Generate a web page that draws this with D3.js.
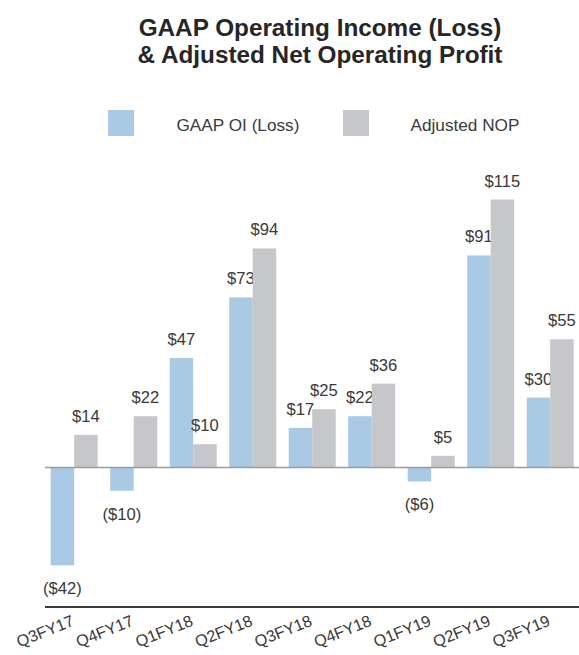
<!DOCTYPE html>
<html>
<head>
<meta charset="utf-8">
<script src="https://cdn.jsdelivr.net/npm/d3@7"></script>
<style>
  html, body { margin: 0; padding: 0; background: #fff; }
  svg { display: block; font-family: "Liberation Sans", Arial, Helvetica, sans-serif; }
</style>
</head>
<body>
<svg id="chart" width="579" height="655"></svg>
<script>
const categories = ["Q3FY17","Q4FY17","Q1FY18","Q2FY18","Q3FY18","Q4FY18","Q1FY19","Q2FY19","Q3FY19"];
const gaapOI = [-42, -10, 47, 73, 17, 22, -6, 91, 30];
const adjustedNOP = [14, 22, 10, 94, 25, 36, 5, 115, 55];
const seriesNames = ["GAAP OI (Loss)", "Adjusted NOP"];
const seriesColors = ["#a9c9e4", "#c6c7cb"];
const titleLines = ["GAAP Operating Income (Loss)", "& Adjusted Net Operating Profit"];

const fmt = v => v < 0 ? "($" + Math.abs(v) + ")" : "$" + v;

const svg = d3.select("#chart");

// Title
svg.append("g").selectAll("text").data(titleLines).join("text")
  .attr("x", 320).attr("y", (d, i) => 36 + i * 27)
  .attr("text-anchor", "middle")
  .attr("font-size", 24.3).attr("font-weight", "bold").attr("fill", "#262626")
  .text(d => d);

// Legend
const legendX = [108, 343];
const legend = svg.append("g").selectAll("g").data(seriesNames).join("g")
  .attr("transform", (d, i) => `translate(${legendX[i]},110)`);
legend.append("rect").attr("width", 26).attr("height", 26).attr("fill", (d, i) => seriesColors[i]);
legend.append("text").attr("x", (d, i) => i === 0 ? 68.5 : 67.5).attr("y", 21.3)
  .attr("font-size", 17.2).attr("fill", "#3a3a3a").text(d => d);

// Scales
const x = d3.scaleBand().domain(categories).range([50.7, 573.7]).paddingInner(0.21).paddingOuter(0);
const xSub = d3.scaleBand().domain([0, 1]).range([0, x.bandwidth()]).padding(0);
const y = d3.scaleLinear().domain([0, 115]).range([467.5, 199.5]);

const rows = categories.map((c, i) => ({ cat: c, vals: [gaapOI[i], adjustedNOP[i]] }));

const groups = svg.append("g").selectAll("g").data(rows).join("g")
  .attr("transform", d => `translate(${x(d.cat)},0)`);

const cells = groups.selectAll("g").data(d => d.vals.map((v, k) => ({ v, k }))).join("g");

cells.append("rect")
  .attr("x", d => xSub(d.k))
  .attr("width", xSub.bandwidth())
  .attr("y", d => Math.min(y(d.v), y(0)))
  .attr("height", d => Math.abs(y(d.v) - y(0)))
  .attr("fill", d => seriesColors[d.k]);

cells.append("text")
  .attr("x", d => xSub(d.k) + xSub.bandwidth() / 2)
  .attr("y", d => d.v >= 0 ? y(d.v) - 13 : y(d.v) + 29)
  .attr("text-anchor", "middle")
  .attr("font-size", 16.6).attr("fill", "#3a3a3a")
  .text(d => fmt(d.v));

// Zero line
svg.append("line").attr("x1", 45).attr("x2", 579).attr("y1", y(0)).attr("y2", y(0))
  .attr("stroke", "#9c9c9c").attr("stroke-width", 1.6);

// Bottom axis line
svg.append("line").attr("x1", 45).attr("x2", 579).attr("y1", 607).attr("y2", 607)
  .attr("stroke", "#3a3a3a").attr("stroke-width", 2.2);

// Category labels
svg.append("g").selectAll("text").data(categories).join("text")
  .attr("transform", d => `translate(${x(d) + x.bandwidth() / 2 + 1},625) rotate(-22)`)
  .attr("text-anchor", "end")
  .attr("font-size", 16.2).attr("fill", "#3a3a3a")
  .text(d => d);
</script>
</body>
</html>
